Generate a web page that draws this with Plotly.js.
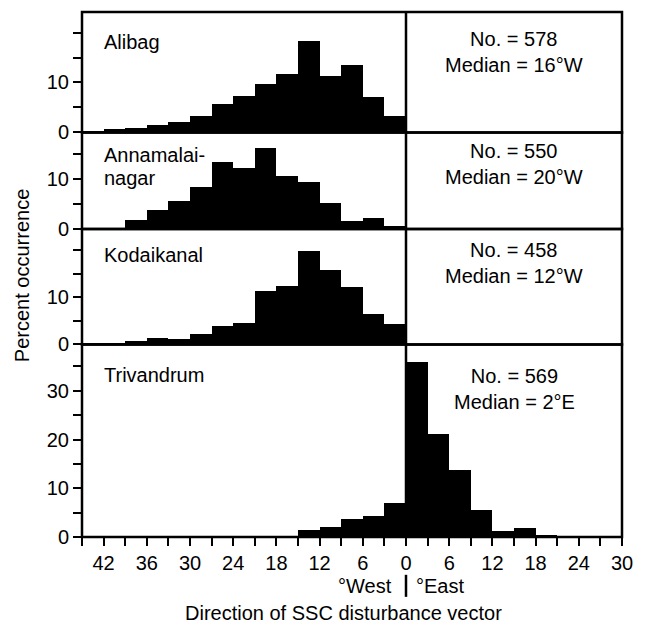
<!DOCTYPE html>
<html><head><meta charset="utf-8">
<script src="https://cdn.plot.ly/plotly-3.0.1.min.js"></script>
<style>body{margin:0;background:#fff}#chart{width:648px;height:625px}</style>
</head><body><div id="chart"></div>
<script>
// 3-degree bins, left edge in degrees (negative = West, positive = East)
const binStart = [-45,-42,-39,-36,-33,-30,-27,-24,-21,-18,-15,-12,-9,-6,-3,0,3,6,9,12,15,18,21,24,27];
const alibag         = [0.2,0.7,0.8,1.5,2.0,3.2,5.7,7.3,9.7,11.7,18.3,11.3,13.5,7.0,3.2, 0,0,0,0,0,0,0,0,0,0];
const annamalainagar = [0,0,1.7,3.7,5.5,8.3,13.4,12.2,16.1,10.5,9.3,5.2,1.5,2.1,0.5, 0,0,0,0,0,0,0,0,0,0];
const kodaikanal     = [0.4,0.4,0.8,1.3,1.1,2.3,4.0,4.5,11.3,12.3,19.9,15.7,12.1,6.5,4.3, 0,0,0,0,0,0,0,0,0,0];
const trivandrum     = [0,0,0,0,0,0,0,0,0,0,1.4,2.1,3.6,4.4,7.0, 35.9,21.2,13.8,5.6,1.2,1.8,0.5,0,0,0];

const stationNames = [['Alibag'],['Annamalai-','nagar'],['Kodaikanal'],['Trivandrum']];
const counts  = [578,550,458,569];
const medians = ['16°W','20°W','12°W','2°E'];

const xTickVals = [-45,-42,-39,-36,-33,-30,-27,-24,-21,-18,-15,-12,-9,-6,-3,0,3,6,9,12,15,18,21,24,27,30];
const xTickText = ['','42','','36','','30','','24','','18','','12','','6','','0','','6','','12','','18','','24','','30'];

const yTickVals = [[0,5,10,15,20],[0,5,10,15],[0,5,10,15,20],[0,5,10,15,20,25,30,35]];
const yTickText = [['0','','10','',''],['0','','10',''],['0','','10','',''],['0','','10','','20','','30','']];

const series = [alibag, annamalainagar, kodaikanal, trivandrum];
const yRanges = [[0,24.1],[0,19.3],[0,24.5],[0,39.5]];
const domains = [[0.7705,1],[0.5867,0.7705],[0.3667,0.5867],[0,0.3667]];
const nameY = [[0.9434],[0.7276,0.6838],[0.5371],[0.3086]];
const statY = [0.9229,0.7101,0.5210,0.2815];

const FONT = 'Liberation Sans, Arial, Helvetica, sans-serif';
const yids = ['y','y2','y3','y4'];
const ykeys = ['yaxis','yaxis2','yaxis3','yaxis4'];

const traces = series.map((vals, i) => ({
  type: 'bar', x: binStart, y: vals, width: 3, offset: 0,
  xaxis: 'x', yaxis: yids[i],
  marker: {color: '#000', line: {width: 0}},
  hoverinfo: 'skip', showlegend: false
}));

const layout = {
  width: 648, height: 625,
  margin: {l: 82, r: 26, t: 12, b: 88},
  paper_bgcolor: '#fff', plot_bgcolor: 'rgba(0,0,0,0)',
  bargap: 0, showlegend: false,
  font: {family: FONT, size: 20, color: '#000'},
  xaxis: {
    range: [-45, 30], anchor: 'y4', tickmode: 'array',
    tickvals: xTickVals, ticktext: xTickText,
    ticks: 'outside', ticklen: 8, tickwidth: 2, tickcolor: '#000',
    showgrid: false, zeroline: false, showline: false,
    tickfont: {family: FONT, size: 20, color: '#000'}
  },
  shapes: [], annotations: []
};

for (let i = 0; i < 4; i++) {
  layout[ykeys[i]] = {
    domain: domains[i], range: yRanges[i], anchor: 'x',
    tickmode: 'array', tickvals: yTickVals[i], ticktext: yTickText[i],
    ticks: 'outside', ticklen: 8, tickwidth: 2, tickcolor: '#000',
    showgrid: false, zeroline: false, showline: false,
    tickfont: {family: FONT, size: 20, color: '#000'}
  };
  layout.shapes.push({
    type: 'rect', xref: 'paper', yref: 'paper',
    x0: 0, x1: 1, y0: domains[i][0], y1: domains[i][1],
    line: {color: '#000', width: 2.5}
  });
  stationNames[i].forEach((line, k) => {
    layout.annotations.push({
      text: line, xref: 'paper', yref: 'paper',
      x: 0.0365, y: nameY[i][k], xanchor: 'left', yanchor: 'middle', align: 'left',
      showarrow: false, font: {family: FONT, size: 20, color: '#000'}
    });
  });
  layout.annotations.push({
    text: 'No. = ' + counts[i] + '<br>Median = ' + medians[i],
    xref: 'x', yref: 'paper', x: 15, y: statY[i],
    xanchor: 'center', yanchor: 'middle', align: 'center',
    showarrow: false, font: {family: FONT, size: 20, color: '#000'}
  });
}

// divider at 0°
layout.shapes.push({type: 'line', xref: 'x', yref: 'paper', x0: 0, x1: 0, y0: 0, y1: 1,
  line: {color: '#000', width: 2.5}});
layout.shapes.push({type: 'line', xref: 'x', yref: 'paper', x0: 0, x1: 0, y0: -0.072, y1: -0.114,
  line: {color: '#000', width: 2.5}});

layout.annotations.push(
  {text: '°West', xref: 'x', yref: 'paper', x: -1.7, y: -0.0933, xanchor: 'right', yanchor: 'middle',
   showarrow: false, font: {family: FONT, size: 20, color: '#000'}},
  {text: '°East', xref: 'x', yref: 'paper', x: 1.1, y: -0.0933, xanchor: 'left', yanchor: 'middle',
   showarrow: false, font: {family: FONT, size: 20, color: '#000'}},
  {text: 'Direction of SSC disturbance vector', xref: 'paper', yref: 'paper', x: 0.4846, y: -0.1448,
   xanchor: 'center', yanchor: 'middle', showarrow: false, font: {family: FONT, size: 20, color: '#000'}},
  {text: 'Percent occurrence', xref: 'paper', yref: 'paper', x: -0.111, y: 0.497, textangle: -90,
   xanchor: 'center', yanchor: 'middle', showarrow: false, font: {family: FONT, size: 20, color: '#000'}}
);

Plotly.newPlot('chart', traces, layout, {staticPlot: true, displayModeBar: false});
</script>
</body></html>
